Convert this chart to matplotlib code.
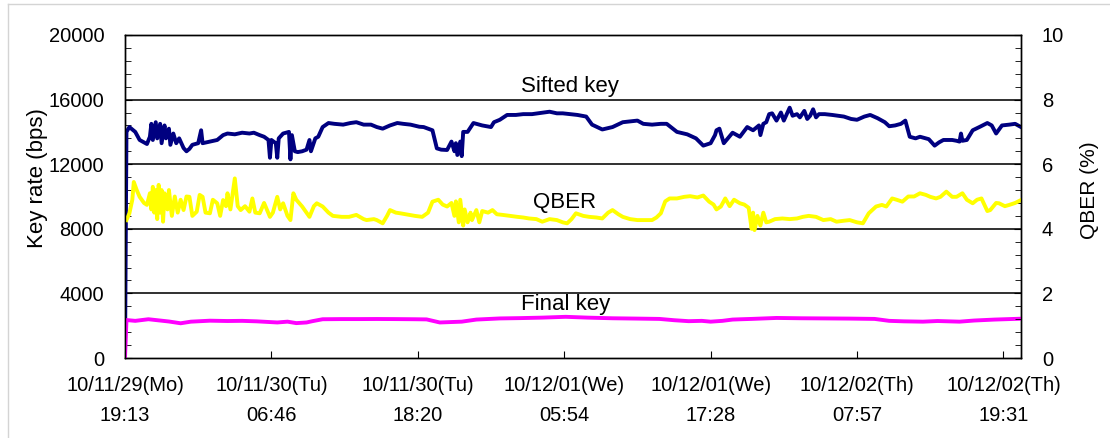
"""Key rate and QBER over the 3.5-day field run (sifted / final key, QBER)."""

import matplotlib

matplotlib.use("Agg")
import matplotlib.pyplot as plt
from matplotlib.lines import Line2D
from matplotlib.ticker import MultipleLocator

plt.rcParams["font.family"] = ["Liberation Sans", "DejaVu Sans"]

# x is the sample index, 100 samples between labelled ticks
TICK_LABELS = [
    "10/11/29(Mo)\n19:13",
    "10/11/30(Tu)\n06:46",
    "10/11/30(Tu)\n18:20",
    "10/12/01(We)\n05:54",
    "10/12/01(We)\n17:28",
    "10/12/02(Th)\n07:57",
    "10/12/02(Th)\n19:31",
]
TICK_POSITIONS = [0, 100, 200, 300, 400, 500, 600]

# sifted key rate (bps)
sifted_x = [
    0, 1, 3, 7, 10, 15, 17, 18, 19, 21, 22, 24, 25, 27, 28, 30, 31, 33, 35, 37,
    40, 42, 44, 46, 50, 52, 53, 58, 63, 67, 70, 75, 80, 85, 88, 92, 95, 98, 99, 100,
    103, 104, 105, 108, 112, 113, 114, 116, 118, 121, 124, 126, 127, 130, 132, 135, 139, 143, 149, 154,
    158, 163, 168, 172, 176, 181, 186, 190, 195, 201, 204, 210, 213, 216, 220, 223, 225, 226, 227, 229,
    230, 231, 234, 238, 244, 250, 252, 256, 261, 267, 272, 278, 282, 286, 290, 295, 299, 304, 309, 315,
    319, 326, 333, 340, 345, 350, 354, 360, 366, 370, 377, 384, 390, 395, 400, 403, 404, 406, 409, 415,
    420, 425, 429, 433, 434, 436, 438, 440, 442, 445, 448, 450, 452, 454, 456, 459, 461, 464, 466, 468,
    470, 472, 474, 478, 483, 487, 491, 496, 500, 505, 509, 514, 519, 522, 526, 530, 533, 536, 540, 543,
    549, 553, 556, 559, 565, 568, 570, 571, 572, 575, 579, 584, 589, 592, 595, 599, 604, 608, 612,
]
sifted_kbps = [
    0, 14000, 14300, 14000, 13500, 13250, 13700, 14500, 13500, 14600, 13600, 14500, 13300, 14400, 13600, 14200, 13200, 13900, 13300, 13600,
    13000, 12800, 12950, 13200, 13300, 14100, 13300, 13400, 13500, 13800, 13900, 13850, 13950, 13900, 13950, 13800, 13700, 13500, 12400, 13500,
    13300, 12400, 13600, 13900, 14000, 12300, 13800, 12800, 12750, 12800, 12900, 13500, 12800, 13600, 13700, 14300, 14550, 14500, 14450, 14550,
    14600, 14450, 14450, 14300, 14200, 14400, 14550, 14500, 14450, 14320, 14300, 14100, 12980, 12900, 12880, 13400, 12800, 13300, 12570, 13400,
    12500, 14000, 14000, 14550, 14400, 14300, 14600, 14750, 15050, 15050, 15100, 15100, 15150, 15200, 15250, 15150, 15150, 15100, 15050, 14950,
    14450, 14150, 14300, 14600, 14650, 14700, 14500, 14450, 14500, 14500, 14000, 13850, 13600, 13150, 13300, 13800, 14100, 14200, 13300, 13950,
    13700, 14300, 14100, 14400, 13800, 14500, 14600, 15100, 15150, 14700, 15200, 14700, 15100, 15500, 15000, 15100, 14900, 15300, 14800, 15000,
    15400, 14900, 15100, 15100, 15050, 15000, 14950, 14800, 14750, 14950, 15050, 14850, 14600, 14350, 14400, 14500, 14700, 13700, 13600, 13700,
    13550, 13150, 13350, 13500, 13500, 13450, 13400, 13900, 13450, 13500, 14100, 14320, 14550, 14400, 13900, 14400, 14450, 14500, 14300,
]

# QBER (%), right axis
qber_x = [
    1, 3, 5, 6, 8, 10, 13, 15, 17, 18, 19, 20, 21, 22, 23, 24, 25, 26, 27, 29,
    30, 32, 34, 36, 38, 40, 42, 44, 46, 49, 51, 53, 55, 58, 60, 63, 65, 67, 69, 70,
    72, 75, 77, 79, 82, 85, 87, 89, 92, 95, 99, 101, 104, 106, 108, 111, 113, 115, 117, 121,
    124, 126, 129, 131, 135, 139, 142, 148, 153, 158, 163, 165, 170, 172, 176, 179, 181, 185, 188, 194,
    198, 203, 207, 210, 214, 217, 220, 223, 225, 226, 228, 229, 231, 232, 234, 236, 237, 240, 242, 244,
    248, 251, 254, 258, 263, 268, 272, 276, 281, 285, 290, 295, 299, 302, 305, 308, 313, 317, 322, 326,
    330, 333, 337, 340, 345, 350, 355, 360, 363, 366, 369, 372, 377, 382, 386, 391, 395, 399, 402, 404,
    407, 410, 413, 416, 420, 423, 426, 428, 429, 430, 432, 434, 436, 438, 440, 444, 449, 454, 459, 463,
    467, 472, 477, 482, 486, 491, 495, 500, 504, 508, 513, 517, 520, 524, 527, 531, 535, 539, 543, 547,
    550, 554, 557, 561, 565, 568, 572, 575, 579, 582, 585, 589, 591, 595, 597, 601, 604, 608, 612,
]
qber_pct = [
    4.27, 4.48, 4.9, 5.45, 5.2, 4.99, 4.8, 4.74, 5.1, 4.6, 5.3, 4.5, 5.2, 4.3, 5.36, 4.5, 5.2, 4.22, 5.1, 4.6,
    5.2, 4.4, 5.0, 4.5, 4.9, 4.58, 5.0, 4.99, 4.4, 4.53, 5.05, 4.99, 4.5, 4.48, 4.9, 4.79, 4.4, 4.89, 4.7, 5.1,
    4.6, 5.56, 4.7, 4.58, 4.7, 4.53, 4.94, 4.5, 4.48, 4.8, 4.37, 4.5, 4.99, 4.6, 4.79, 4.4, 4.27, 5.1, 4.9, 4.69,
    4.5, 4.37, 4.7, 4.79, 4.69, 4.5, 4.4, 4.37, 4.37, 4.43, 4.3, 4.27, 4.3, 4.27, 4.17, 4.4, 4.58, 4.5, 4.48, 4.43,
    4.4, 4.37, 4.5, 4.84, 4.9, 4.75, 4.69, 4.8, 4.4, 4.85, 4.2, 4.9, 4.1, 4.6, 4.2, 4.5, 4.27, 4.58, 4.2, 4.55,
    4.5, 4.58, 4.45, 4.43, 4.4, 4.37, 4.35, 4.32, 4.3, 4.22, 4.3, 4.27, 4.2, 4.17, 4.3, 4.48, 4.4, 4.37, 4.35, 4.32,
    4.5, 4.58, 4.45, 4.37, 4.3, 4.27, 4.27, 4.27, 4.35, 4.48, 4.85, 4.94, 4.94, 4.99, 5.01, 4.97, 5.03, 4.84, 4.75, 4.6,
    4.69, 4.94, 4.7, 4.9, 4.79, 4.75, 4.65, 4.0, 4.5, 3.96, 4.4, 4.1, 4.5, 4.2, 4.22, 4.3, 4.32, 4.3, 4.32, 4.37,
    4.4, 4.37, 4.27, 4.3, 4.22, 4.25, 4.27, 4.2, 4.17, 4.48, 4.69, 4.74, 4.69, 4.94, 4.9, 4.84, 5.0, 5.0, 5.1, 5.05,
    4.99, 4.94, 4.99, 5.15, 4.99, 4.99, 5.1, 4.9, 4.79, 4.9, 4.94, 4.55, 4.58, 4.8, 4.79, 4.7, 4.74, 4.8, 4.89,
]

# final key rate (bps)
final_x = [
    0, 1, 7, 16, 23, 30, 38, 45, 58, 70, 80, 90, 104, 111, 117, 124, 128, 135, 148, 160,
    172, 184, 198, 206, 215, 224, 230, 240, 256, 270, 285, 301, 316, 333, 350, 365, 375, 385, 394, 400,
    408, 415, 421, 428, 445, 462, 479, 495, 512, 522, 532, 545, 555, 570, 580, 594, 611,
]
final_kbps = [
    0, 2350, 2300, 2400, 2330, 2260, 2150, 2250, 2310, 2290, 2300, 2270, 2200, 2250, 2160, 2200, 2280, 2400, 2410, 2410,
    2415, 2410, 2400, 2390, 2200, 2230, 2250, 2380, 2450, 2470, 2500, 2550, 2500, 2460, 2440, 2420, 2340, 2280, 2300, 2250,
    2300, 2380, 2400, 2420, 2480, 2460, 2450, 2440, 2420, 2300, 2270, 2250, 2290, 2250, 2320, 2380, 2430,
]

W, H = 1110, 438
fig = plt.figure(figsize=(W / 100, H / 100), dpi=100)
ax = fig.add_axes([125 / W, 1 - 358 / H, 896 / W, 323 / H])
ax_q = ax.twinx()

# light frame around the whole picture (left and top edges show)
frame = dict(color="#d4d4d4", linewidth=1.0, transform=fig.transFigure)
fig.add_artist(Line2D([8 / W, 8 / W], [0, 1 - 4 / H], **frame))
fig.add_artist(Line2D([8 / W, 1], [1 - 4 / H, 1 - 4 / H], **frame))

for level in (4000, 8000, 12000, 16000):
    ax.axhline(level, color="#202020", linewidth=1.3, zorder=1)

ax_q.plot(qber_x, qber_pct, color="#ffff00", linewidth=2.8, zorder=2)
ax.plot(sifted_x, sifted_kbps, color="#000080", linewidth=2.8, zorder=3)
ax.plot(final_x, final_kbps, color="#ff00ff", linewidth=2.8, zorder=4)

ax.set_xlim(0, 612)
ax.set_ylim(0, 20000)
ax_q.set_ylim(0, 10)
ax.set_xticks(TICK_POSITIONS)
ax.set_xticklabels(TICK_LABELS, linespacing=1.7)
ax.set_yticks(range(0, 20001, 4000))
ax.yaxis.set_minor_locator(MultipleLocator(800))
ax_q.set_yticks(range(0, 11, 2))
ax_q.yaxis.set_minor_locator(MultipleLocator(0.4))

for axis in (ax, ax_q):
    for spine in axis.spines.values():
        spine.set_color("black")
        spine.set_linewidth(1.0)
ax.tick_params(axis="x", direction="in", length=5, pad=13, labelsize=14.5)
ax.tick_params(axis="y", which="major", direction="in", length=5, pad=15, labelsize=14.5)
ax.tick_params(axis="y", which="minor", direction="in", length=4)
ax_q.tick_params(axis="y", which="major", direction="in", length=5, pad=15, labelsize=14.5)
ax_q.tick_params(axis="y", which="minor", direction="in", length=4)

ax.set_ylabel("Key rate (bps)", fontsize=16)
ax.yaxis.set_label_coords(-0.086, 0.557)
ax_q.set_ylabel("QBER (%)", fontsize=15)
ax_q.yaxis.set_label_coords(1.066, 0.52)

ax.text(304, 16150, "Sifted key", ha="center", va="bottom", fontsize=16)
ax.text(300, 9650, "QBER", ha="center", va="center", fontsize=16)
ax.text(301, 2650, "Final key", ha="center", va="bottom", fontsize=16)

fig.savefig("out.png", dpi=100)
